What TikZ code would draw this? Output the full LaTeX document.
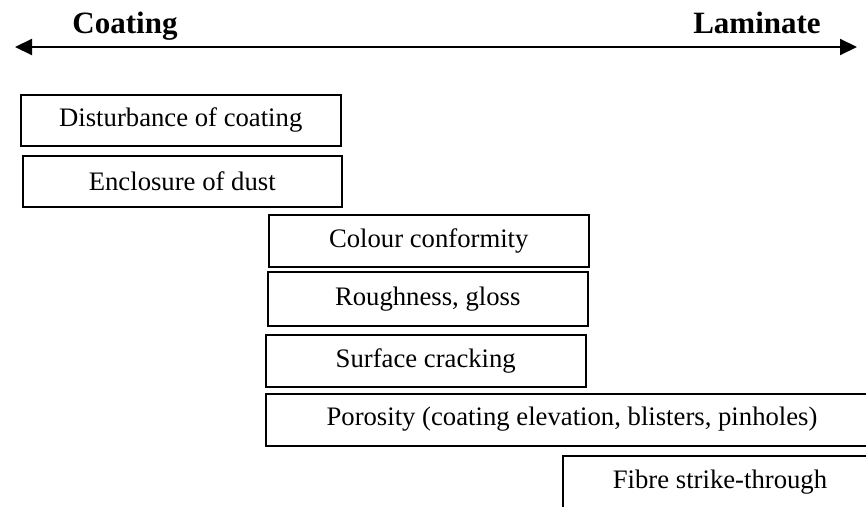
\documentclass[tikz,border=0pt]{standalone}
\usepackage{fontspec}
\setmainfont{Liberation Serif}
\usetikzlibrary{arrows.meta}
\begin{document}
\begin{tikzpicture}[x=1pt,y=-1pt,
  defectbox/.style={draw, line width=1.5pt, anchor=north west, inner sep=0pt,
    font=\fontsize{26.7}{26.7}\selectfont},
  boxtext/.style={font=\fontsize{26.7}{26.7}\selectfont},
  endlabel/.style={anchor=base, font=\fontsize{31}{31}\selectfont\bfseries}]
\path[use as bounding box, clip] (0,0) rectangle (866,506);
\fill[white] (0,0) rectangle (866,506);
% axis
\coordinate (axL) at (15,47);
\coordinate (axR) at (857,47);
\draw[line width=2pt, {Triangle[length=17pt,width=16pt]}-{Triangle[length=17pt,width=16pt]}] (axL) -- (axR);
\node[endlabel] (coat) at (125,33) {Coating};
\node[endlabel] (lam) at (757,33) {Laminate};
% boxes
\node[defectbox, minimum width=320pt, minimum height=51pt] (b1) at (20,94) {Disturbance of coating};
\node[defectbox, minimum width=319pt, minimum height=51pt] (b2) at (22,155) {Enclosure of dust};
\node[defectbox, minimum width=320pt, minimum height=52pt] (b3) at (268,214) {Colour conformity};
\node[defectbox, minimum width=320pt, minimum height=54pt] (b4) at (267,271) {Roughness, gloss};
\node[defectbox, minimum width=320pt, minimum height=52pt] (b5) at (265,334) {Surface cracking};
\node[defectbox, minimum width=640pt, minimum height=52pt] (b6) at (265,393) {};
\node[boxtext] (t6) at (572,419) {Porosity (coating elevation, blisters, pinholes)};
\node[defectbox, minimum width=320pt, minimum height=52pt] (b7) at (562,455) {};
\node[boxtext] (t7) at (720,482) {Fibre strike-through};
\end{tikzpicture}
\end{document}
